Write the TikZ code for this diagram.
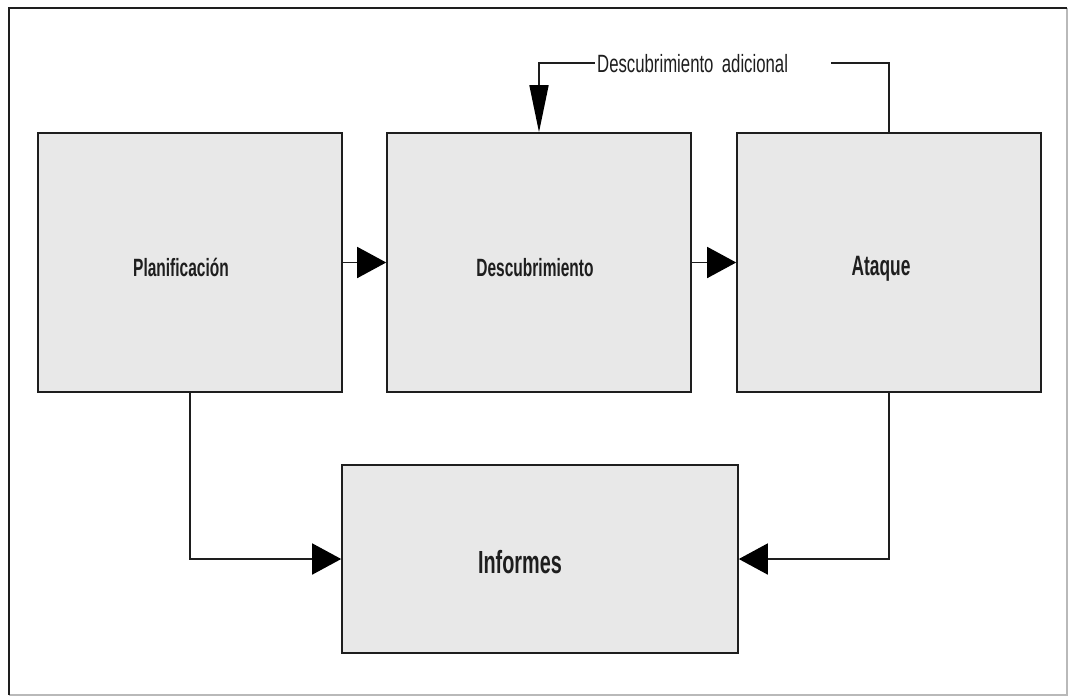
\documentclass[tikz,border=0pt]{standalone}
\usepackage{fontspec}
\usetikzlibrary{arrows.meta}
\newfontfamily\boxfont[FakeStretch=0.62]{Liberation Sans}
\newfontfamily\notefont[FakeStretch=0.67]{Liberation Sans}
\definecolor{boxfill}{HTML}{E8E8E8}
\definecolor{ink}{HTML}{1E1E1E}
\begin{document}
\begin{tikzpicture}[x=1pt,y=-1pt,
  stage/.style={draw=ink, line width=1.6pt, fill=boxfill, inner sep=0pt,
    minimum width=304pt, minimum height=259pt},
  report/.style={stage, minimum width=396pt, minimum height=188pt},
  stagelabel/.style={anchor=base, inner sep=0pt, text=ink, font=\boxfont\bfseries},
  flow/.style={draw=ink, line width=1.6pt, -{Triangle[length=29pt,width=31pt,color=black]}},
  downflow/.style={draw=ink, line width=1.6pt, -{Triangle[length=47pt,width=19pt,color=black]}}]
  \useasboundingbox (0,0) rectangle (1068,697);

  % page frame
  \draw[gray!55, line width=1.4pt] (1067,8) -- (1067,695) -- (9,695);
  \draw[ink, line width=1.8pt] (9,695) -- (9,8) -- (1067,8);

  % stages
  \node[stage] (plan) at (190,262.5) {};
  \node[stage] (desc) at (539,262.5) {};
  \node[stage] (atk)  at (889,262.5) {};
  \node[report] (inf) at (540,559) {};

  \node[stagelabel, font=\boxfont\bfseries\fontsize{25}{25}\selectfont] (planl) at (181,276) {Planificación};
  \node[stagelabel, font=\boxfont\bfseries\fontsize{25}{25}\selectfont] (descl) at (535,276) {Descubrimiento};
  \node[stagelabel, font=\boxfont\bfseries\fontsize{28}{28}\selectfont] (atkl) at (881,275) {Ataque};
  \node[stagelabel, font=\boxfont\bfseries\fontsize{32}{32}\selectfont] (infl) at (520,573) {Informes};

  % main flow
  \draw[flow] (plan.east) -- (desc.west);
  \draw[flow] (desc.east) -- (atk.west);
  \draw[flow] (plan.south) |- (inf.west);
  \draw[flow] (atk.south) |- (inf.east);

  % feedback loop
  \coordinate (loop) at (0,63);
  \draw[downflow] (atk.north) -- (atk.north |- loop) -- (desc.north |- loop) -- (desc.north);
  \node[anchor=west, fill=white, inner xsep=2pt, inner ysep=0pt,
    text width=232pt, align=left, text height=17.9pt, text depth=0pt,
    text=ink, font=\notefont\fontsize{25}{25}\selectfont] (note) at (595,64) {Descubrimiento adicional};
\end{tikzpicture}
\end{document}
